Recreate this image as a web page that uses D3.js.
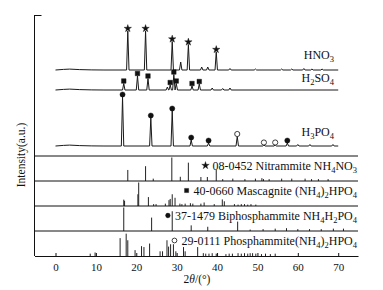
<!DOCTYPE html>
<html>
<head>
<meta charset="utf-8">
<script src="https://cdn.jsdelivr.net/npm/d3@7"></script>
<style>
body { margin: 0; background: #fff; }
text { font-family: "Liberation Serif", "Times New Roman", serif; fill: #111; }
</style>
</head>
<body>
<svg width="383" height="290"></svg>
<script>
// measured patterns: [2theta, intensity a.u.]
var hno3Peaks = [[17.9,39],[22.3,39],[28.9,28.5],[31.0,8],[32.9,25.5],[36.2,3],[37.7,3],[39.8,18],
  [43.2,1.5],[49.5,1],[56.0,1],[58.5,1],[61.5,1.5],[63.5,1],[66.0,1]];
var h2so4Peaks = [[16.9,6.5],[20.3,14],[22.9,11.5],[27.7,3],[28.4,5],[29.3,15.5],[29.9,6.5],[33.8,4],
  [35.6,6],[38.8,2],[41.4,1.5],[43.2,2]];
var h3po4Peaks = [[16.6,49],[23.6,28],[28.9,35],[33.6,6],[37.9,3],[45.0,9.5],[51.6,1],[54.4,1],
  [57.4,3],[60.0,1.5],[63.0,1.5],[68.7,1.5]];
var humpPts = [[0,0],[2,0.6],[3.5,0.9],[6,0.4],[9,0.1],[12,0]];

var hno3Stars = [17.9,22.3,28.9,32.9,39.8];
var h2so4Squares = [16.9,20.3,22.9,28.4,29.3,29.9,33.8,35.6];
var h3po4Dots = [16.6,23.6,28.9,33.6,37.9,57.4];
var h3po4Rings = [45.0,51.6,54.4];

var sampleNames = ["HNO3","H2SO4","H3PO4"];
var sampleOffsets = [86,66,10];

// standard cards: [2theta, relative intensity]
var nitrammite = [[17.9,47],[22.3,63],[24.2,10],[28.8,100],[30.9,18],[32.9,78],[36.0,17],[37.6,17],[39.8,47],
  [41.4,8],[43.9,10],[46.9,8],[49.5,10],[51.1,12],[51.5,8],[52.9,8],[56.0,10],[58.5,10],[61.8,10],
  [63.4,8],[65.1,8],[67.5,8]];
var mascagnite = [[16.9,27],[17.1,22],[20.4,50],[20.6,100],[23.0,38],[24.3,8],[24.9,8],[27.2,10],[28.1,25],
  [28.4,30],[28.9,50],[29.6,35],[30.8,10],[31.3,8],[32.1,10],[33.4,12],[34.0,10],[36.0,10],[36.8,15],
  [39.3,8],[41.3,28],[41.8,20],[44.3,8],[45.2,6],[46.0,8],[46.8,8],[47.6,6],[48.4,8],[49.6,6]];
var biphosphammite = [[16.9,100],[23.8,57],[28.9,84],[33.6,24],[37.7,18],[45.1,40],[48.2,6],[51.4,8],
  [54.4,10],[57.2,12],[60.0,8],[62.9,8],[65.8,8],[68.8,10],[71.3,10]];
var phosphammite = [[8.6,10],[9.8,15],[16.0,76],[17.5,95],[17.9,67],[19.7,25],[21.3,42],[21.9,38],[23.3,53],
  [25.9,20],[26.5,20],[27.6,67],[28.0,40],[28.5,50],[29.2,50],[29.8,20],[31.7,38],[32.1,20],[35.2,38],
  [36.6,12],[37.2,10],[38.0,10],[38.8,12],[39.8,10],[42.2,8],[43.0,10],[43.8,10],[45.2,12],[46.0,10],
  [46.8,12],[47.6,10],[48.2,12],[48.8,12],[49.6,10],[51.0,8],[52.0,10],[53.2,8],[54.4,10]];

var cardCodes = ["08-0452 Nitrammite ","40-0660 Mascagnite ","37-1479 Biphosphammite ","29-0111 Phosphammite"];
var cardFormulas = ["NH4NO3","(NH4)2HPO4","NH4H2PO4","(NH4)2HPO4"];

var xTicks = [0,10,20,30,40,50,60,70];

var svg = d3.select("svg");
var mLeft = 34.5, mRight = 358, mTop = 15, mBottom = 256, panelTop = 156;

var x = d3.scaleLinear().domain([-5.2, 74.9]).range([mLeft, mRight]);
var y = d3.scaleLinear().domain([0, 141]).range([panelTop, mTop]);

function profile(peaks, off) {
  var pts = humpPts.map(function(p) { return [p[0], p[1] + off]; });
  peaks.forEach(function(p) {
    pts.push([p[0] - 0.3, off], [p[0], p[1] + off], [p[0] + 0.3, off]);
  });
  pts.push([70, off]);
  pts.sort(function(a, b) { return a[0] - b[0]; });
  return pts;
}
var line = d3.line().x(function(d) { return x(d[0]); }).y(function(d) { return y(d[1]); });

var patterns = [hno3Peaks, h2so4Peaks, h3po4Peaks];
patterns.forEach(function(pk, i) {
  svg.append("path").attr("d", line(profile(pk, sampleOffsets[i])))
    .attr("fill", "none").attr("stroke", "#1a1a1a").attr("stroke-width", 1);
});

function apex(peaks, a) {
  var p = peaks.find(function(d) { return d[0] === a; });
  return p ? p[1] : 0;
}
function marks(list, peaks, off, type, filled) {
  svg.selectAll(null).data(list).enter().append("path")
    .attr("d", d3.symbol().type(type).size(type === d3.symbolStar ? 17 : 21))
    .attr("transform", function(a) { return "translate(" + x(a) + "," + (y(apex(peaks, a) + off) - 2.5) + ")"; })
    .attr("fill", filled ? "#111" : "#fff").attr("stroke", "#111").attr("stroke-width", filled ? 0.4 : 0.8);
}
marks(hno3Stars, hno3Peaks, sampleOffsets[0], d3.symbolStar, true);
marks(h2so4Squares, h2so4Peaks, sampleOffsets[1], d3.symbolSquare, true);
marks(h3po4Dots, h3po4Peaks, sampleOffsets[2], d3.symbolCircle, true);
marks(h3po4Rings, h3po4Peaks, sampleOffsets[2], d3.symbolCircle, false);

// formula with subscript digits
function chem(sel, s) {
  var shift = 0;
  s.match(/[0-9]+|[^0-9]+/g).forEach(function(p) {
    var sub = /^[0-9]+$/.test(p);
    var dy = (sub ? 3 : 0) - shift;
    shift = sub ? 3 : 0;
    sel.append("tspan").text(p).attr("font-size", sub ? "8.5px" : null).attr("dy", dy);
  });
}
var sampleLabelY = [59, 82, 136];
sampleNames.forEach(function(n, i) {
  var t = svg.append("text").attr("x", 334).attr("y", sampleLabelY[i]).attr("dy", "0.35em")
    .attr("text-anchor", "end").attr("font-size", "12px");
  chem(t, n);
});

// reference panels
var cards = [nitrammite, mascagnite, biphosphammite, phosphammite];
var panelH = (mBottom - panelTop) / 4;
var cardSymbols = [d3.symbolStar, d3.symbolSquare, d3.symbolCircle, d3.symbolCircle];
cards.forEach(function(card, i) {
  var b = panelTop + panelH * (i + 1);
  var yc = d3.scaleLinear().domain([0, 100]).range([b, b - panelH + 1.5]);
  svg.selectAll(null).data(card).enter().append("line")
    .attr("x1", function(d) { return x(d[0]); }).attr("x2", function(d) { return x(d[0]); })
    .attr("y1", b).attr("y2", function(d) { return yc(d[1]); })
    .attr("stroke", "#222").attr("stroke-width", 1);
  svg.append("line").attr("x1", mLeft).attr("x2", mRight).attr("y1", panelTop + panelH * i).attr("y2", panelTop + panelH * i)
    .attr("stroke", "#111").attr("stroke-width", 1);

  var ty = panelTop + panelH * i + panelH * 0.38;
  var t = svg.append("text").attr("x", 357).attr("y", ty).attr("dy", "0.35em")
    .attr("text-anchor", "end").attr("font-size", "12px");
  t.append("tspan").text(cardCodes[i]);
  chem(t, cardFormulas[i]);
  var w = t.node().getComputedTextLength();
  svg.append("path").attr("d", d3.symbol().type(cardSymbols[i]).size(i === 0 ? 18 : 18))
    .attr("transform", "translate(" + (357 - w - 7) + "," + ty + ")")
    .attr("fill", i === 3 ? "#fff" : "#111").attr("stroke", "#111").attr("stroke-width", i === 3 ? 0.8 : 0.3);
});

// axes
svg.append("g").attr("transform", "translate(0," + mBottom + ")")
  .call(d3.axisBottom(x).tickValues(xTicks).tickSizeInner(-3).tickSizeOuter(0).tickPadding(7))
  .call(function(g) {
    g.attr("font-family", null);
    g.select(".domain").attr("stroke", "#111");
    g.selectAll("line").attr("stroke", "#111");
    g.selectAll("text").attr("font-size", "11px").attr("fill", "#111");
  });
svg.append("line").attr("x1", mLeft).attr("x2", mLeft).attr("y1", mTop).attr("y2", mBottom).attr("stroke", "#111");
svg.append("line").attr("x1", mLeft).attr("x2", mLeft + 7).attr("y1", mTop + 0.5).attr("y2", mTop + 0.5).attr("stroke", "#111");

svg.append("text").attr("transform", "translate(21,155) rotate(-90)").attr("text-anchor", "middle")
  .attr("dy", "0.35em").attr("font-size", "11.5px").text("Intensity(a.u.)");

var xl = svg.append("text").attr("x", 197).attr("y", 279).attr("dy", "0.35em").attr("text-anchor", "middle").attr("font-size", "11.5px");
xl.append("tspan").text("2");
xl.append("tspan").attr("font-style", "italic").text("\u03b8");
xl.append("tspan").text("/(\u00b0)");
</script>
</body>
</html>
